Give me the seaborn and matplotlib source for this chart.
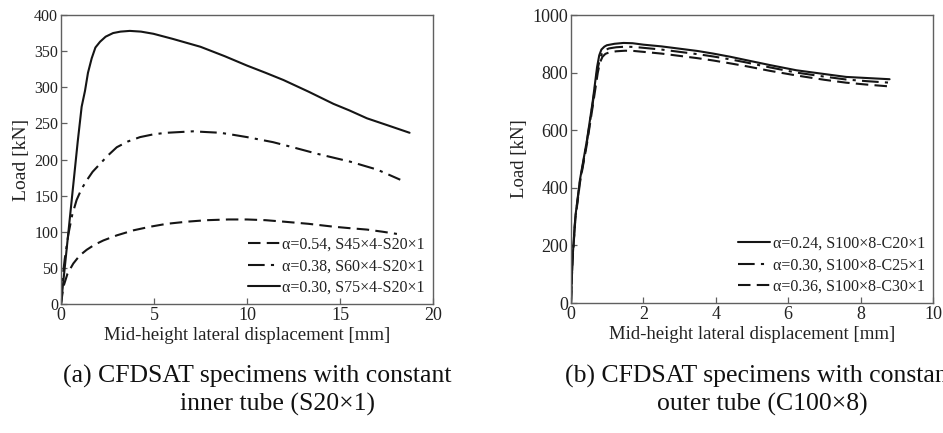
import numpy as np
import pandas as pd
import matplotlib
matplotlib.use("Agg")
import matplotlib.pyplot as plt
import seaborn as sns

# ---------------- data ----------------
# Panel (a): constant inner tube S20x1
a_labels = ["α=0.54, S45×4-S20×1", "α=0.38, S60×4-S20×1", "α=0.30, S75×4-S20×1"]
a54_x = [0, 0.13, 0.35, 0.66, 1.0, 1.38, 1.8, 2.28, 3.0, 3.9, 4.8, 5.69, 6.8, 7.84, 9.0, 10.0, 11.0, 11.96, 13.3, 14.65, 15.5, 16.45, 17.3, 18.06]
a54_y = [0, 24, 42, 56, 67, 75, 82, 88, 95, 102, 107, 111, 114, 116, 117, 117, 116, 114, 111, 107, 105, 103, 100, 97]
a38_x = [0, 0.1, 0.2, 0.4, 0.6, 0.84, 1.1, 1.38, 1.7, 2.1, 2.5, 3.0, 3.6, 4.25, 5.0, 5.69, 6.4, 7.1, 7.8, 8.56, 9.3, 10.0, 11.4, 12.6, 13.76, 15.55, 17.0, 18.24]
a38_y = [0, 40, 62, 97, 123, 144, 159, 171, 183, 194, 205, 217, 225, 231, 235, 237, 238, 239, 238, 237, 234, 231, 224, 216, 208, 197, 186, 172]
a30_x = [0, 0.3, 0.6, 0.9, 1.11, 1.29, 1.45, 1.65, 1.85, 2.1, 2.4, 2.8, 3.2, 3.7, 4.3, 4.97, 6.0, 7.5, 8.8, 10.0, 11.0, 11.96, 13.3, 14.65, 15.5, 16.45, 17.6, 18.74]
a30_y = [0, 75, 150, 225, 273, 295, 320, 340, 355, 363, 370, 375, 377, 378, 377, 374, 367, 356, 343, 330, 320, 310, 294, 277, 268, 257, 247, 237]

# Panel (b): constant outer tube C100x8
b_labels = ["α=0.24, S100×8-C20×1", "α=0.30, S100×8-C25×1", "α=0.36, S100×8-C30×1"]
b24_x = [0, 0.04, 0.12, 0.25, 0.44, 0.6, 0.72, 0.78, 0.84, 0.92, 0.99, 1.2, 1.45, 1.7, 2.0, 2.5, 3.0, 3.5, 3.93, 4.4, 4.85, 5.5, 6.23, 7.0, 7.6, 8.2, 8.8]
b24_y = [0, 150, 300, 430, 565, 700, 819, 860, 880, 890, 895, 900, 903, 902, 897, 891, 883, 875, 866, 855, 843, 826, 808, 795, 785, 781, 777]
b30_x = [0, 0.04, 0.12, 0.25, 0.44, 0.6, 0.73, 0.8, 0.86, 0.94, 1.05, 1.25, 1.5, 1.75, 2.0, 2.5, 3.0, 3.5, 3.93, 4.4, 4.85, 5.5, 6.23, 7.0, 7.6, 8.2, 8.8]
b30_y = [0, 148, 296, 425, 560, 693, 810, 848, 868, 878, 884, 888, 890, 889, 886, 880, 872, 864, 856, 846, 835, 818, 800, 786, 776, 770, 765]
b36_x = [0, 0.04, 0.12, 0.25, 0.44, 0.6, 0.74, 0.8, 0.87, 0.95, 1.05, 1.25, 1.5, 1.75, 2.0, 2.5, 3.0, 3.5, 3.93, 4.4, 4.85, 5.5, 6.23, 7.0, 7.6, 8.2, 8.8]
b36_y = [0, 145, 290, 420, 552, 683, 800, 835, 855, 865, 870, 874, 876, 875, 872, 866, 858, 850, 842, 832, 822, 806, 790, 775, 765, 758, 752]

a_xticks = [0, 5, 10, 15, 20]
a_yticks = [0, 50, 100, 150, 200, 250, 300, 350, 400]
b_xticks = [0, 2, 4, 6, 8, 10]
b_yticks = [0, 200, 400, 600, 800, 1000]

# ---------------- styling ----------------
sns.set_theme(style="white")
plt.rcParams["font.family"] = ["Liberation Serif", "DejaVu Serif"]

LINE = "#151515"
SPINE = "#606060"
TXT = "#222222"

fig = plt.figure(figsize=(9.43, 4.33), dpi=100)
axA = fig.add_axes([61 / 943, 1 - 304 / 433, (433 - 61) / 943, (304 - 15) / 433])
axB = fig.add_axes([571 / 943, 1 - 303 / 433, (933 - 571) / 943, (303 - 15) / 433])

def make_df(xs, ys, labels):
    frames = []
    for x, y, l in zip(xs, ys, labels):
        frames.append(pd.DataFrame({"x": x, "y": y, "series": l}))
    return pd.concat(frames, ignore_index=True)

dfA = make_df([a54_x, a38_x, a30_x], [a54_y, a38_y, a30_y], a_labels)
dfB = make_df([b24_x, b30_x, b36_x], [b24_y, b30_y, b36_y], b_labels)

DASH = (0, (6, 3))
DASHDOT = (0, (8, 3, 1.5, 3))
stylesA = {a_labels[0]: DASH, a_labels[1]: DASHDOT, a_labels[2]: "-"}
stylesB = {b_labels[0]: "-", b_labels[1]: DASHDOT, b_labels[2]: DASH}

def draw(ax, df, labels, styles, lw):
    for l in labels:
        sub = df[df["series"] == l]
        sns.lineplot(data=sub, x="x", y="y", ax=ax, color=LINE, lw=lw,
                     estimator=None, sort=False, label=l, linestyle=styles[l])

draw(axA, dfA, a_labels, stylesA, 1.5)
draw(axB, dfB, b_labels, stylesB, 1.5)

def style_axes(ax, xlim, ylim, xt, yt, xts, yts, ylabel_size):
    ax.set_xlim(*xlim)
    ax.set_ylim(*ylim)
    ax.set_xticks(xt)
    ax.set_yticks(yt)
    ax.tick_params(direction="in", length=4, width=0.9, color=SPINE,
                   pad=2, labelcolor=TXT,
                   bottom=True, left=True, top=False, right=False)
    ax.tick_params(axis="x", labelsize=xts)
    ax.tick_params(axis="y", labelsize=yts)
    for s in ax.spines.values():
        s.set_color(SPINE)
        s.set_linewidth(1.0)
    ax.set_xlabel("Mid-height lateral displacement [mm]", fontsize=13.5, labelpad=2, color=TXT)
    ax.set_ylabel("Load [kN]", fontsize=ylabel_size, labelpad=3, color=TXT)

style_axes(axA, (0, 20), (0, 400), a_xticks, a_yticks, 13, 11.5, 14)
style_axes(axB, (0, 10), (0, 1000), b_xticks, b_yticks, 13, 13, 13.5)

for ax in (axA, axB):
    leg = ax.legend(loc="lower right", frameon=False, fontsize=11.5,
                    handlelength=2.0, handletextpad=0.15, labelspacing=0.35,
                    borderaxespad=0.3, borderpad=0.2)
    for t in leg.get_texts():
        t.set_color(TXT)

# captions
CAP = 18.5
fig.text(63 / 943, 1 - 376 / 433, "(a) CFDSAT specimens with constant", fontsize=CAP,
         ha="left", va="center", color="#111111")
fig.text(277 / 943, 1 - 404 / 433, "inner tube (S20×1)", fontsize=CAP,
         ha="center", va="center", color="#111111")
fig.text(565 / 943, 1 - 376 / 433, "(b) CFDSAT specimens with constant", fontsize=CAP,
         ha="left", va="center", color="#111111")
fig.text(762 / 943, 1 - 404 / 433, "outer tube (C100×8)", fontsize=CAP,
         ha="center", va="center", color="#111111")

fig.savefig("out.png", dpi=100)
